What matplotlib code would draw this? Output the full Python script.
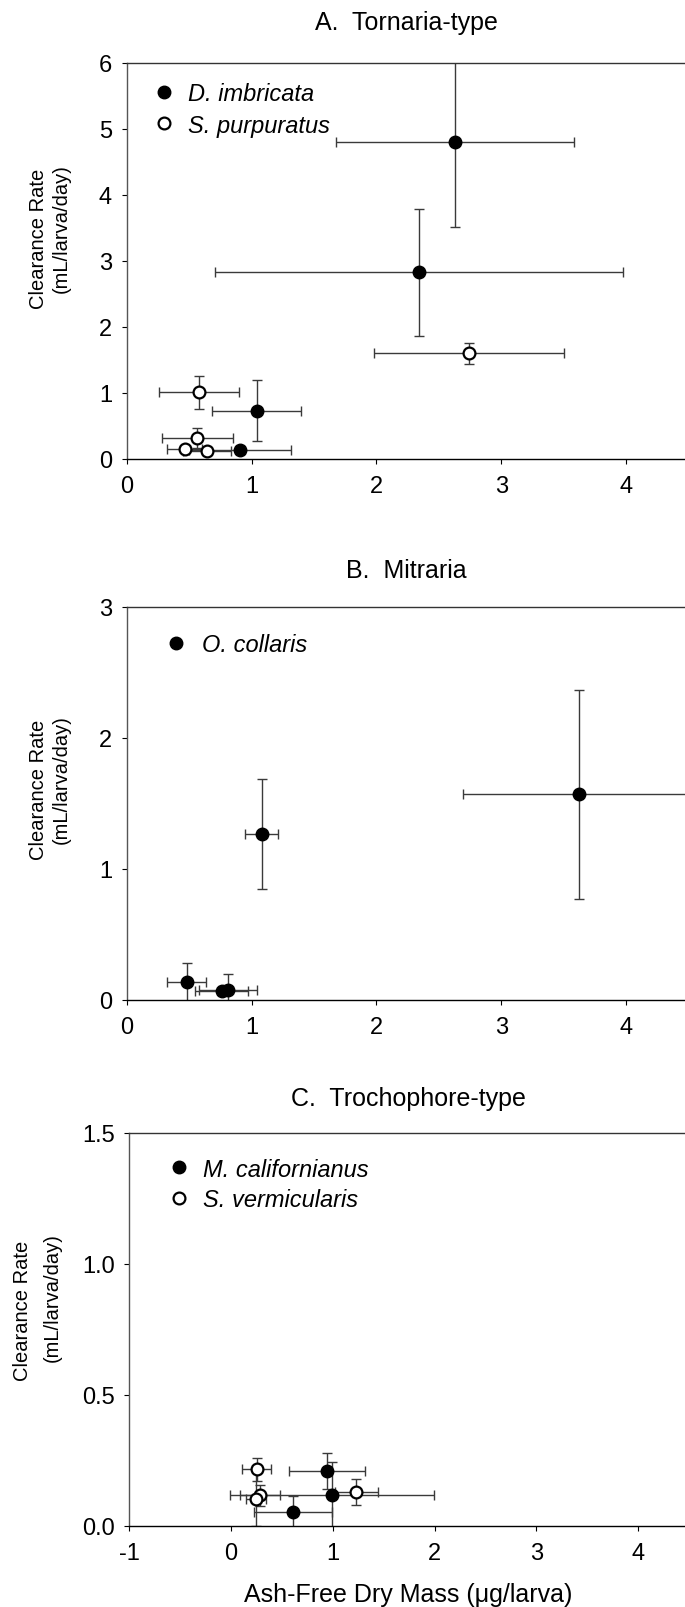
import matplotlib
matplotlib.use('Agg')
import matplotlib.pyplot as plt
from matplotlib.lines import Line2D
from matplotlib.ticker import FormatStrFormatter

plt.rcParams['font.family'] = ['Liberation Sans', 'DejaVu Sans']
plt.rcParams['axes.unicode_minus'] = False

# A. Tornaria-type
a_dimb_x = [2.63, 2.34, 1.04, 0.91]
a_dimb_xerr = [0.95, 1.63, 0.36, 0.41]
a_dimb_y = [4.80, 2.83, 0.73, 0.14]
a_dimb_yerr = [1.28, 0.96, 0.46, 0.06]

a_spur_x = [2.74, 0.58, 0.565, 0.465, 0.645]
a_spur_xerr = [0.76, 0.32, 0.285, 0.14, 0.19]
a_spur_y = [1.60, 1.01, 0.32, 0.15, 0.125]
a_spur_yerr = [0.16, 0.25, 0.15, 0.04, 0.06]

# B. Mitraria
b_ocol_x = [3.62, 1.08, 0.48, 0.76, 0.81]
b_ocol_xerr = [0.925, 0.13, 0.155, 0.215, 0.23]
b_ocol_y = [1.57, 1.27, 0.14, 0.065, 0.08]
b_ocol_yerr = [0.80, 0.42, 0.145, 0.03, 0.115]

# C. Trochophore-type
c_mcal_x = [0.94, 0.99, 0.61]
c_mcal_xerr = [0.375, 1.0, 0.38]
c_mcal_y = [0.21, 0.12, 0.053]
c_mcal_yerr = [0.07, 0.125, 0.062]

c_sver_x = [0.252, 1.23, 0.285, 0.245]
c_sver_xerr = [0.14, 0.21, 0.2, 0.1]
c_sver_y = [0.216, 0.13, 0.117, 0.104]
c_sver_yerr = [0.045, 0.05, 0.04, 0.105]

W, H = 685, 1608
fig = plt.figure(figsize=(W / 100, H / 100), dpi=100)

ERRC = '#3a3a3a'
TICKFS = 17
LEGFS = 17
YLFS = 14.5


def px_axes(left, top, bottom):
    return fig.add_axes([left / W, 1 - bottom / H, 1 - left / W, (bottom - top) / H])


def style(ax):
    ax.spines['right'].set_visible(False)
    for s in ('left', 'top', 'bottom'):
        ax.spines[s].set_linewidth(1.0)
    ax.spines['left'].set_color('#555555')
    ax.spines['top'].set_color('#333333')
    ax.spines['bottom'].set_color('black')
    ax.tick_params(axis='x', direction='out', length=3.5, width=0.8, labelsize=TICKFS, pad=8)
    ax.tick_params(axis='y', direction='out', length=3.5, width=0.8, labelsize=TICKFS, pad=7)


def series(ax, x, y, xerr, yerr, filled):
    ax.errorbar(x, y, xerr=xerr, yerr=yerr, fmt='none', ecolor=ERRC,
                elinewidth=1.0, capsize=3.5, capthick=1.0, zorder=2)
    if filled:
        ax.plot(x, y, 'o', ms=9, mfc='black', mec='black', ls='none', zorder=3, clip_on=False)
    else:
        ax.plot(x, y, 'o', ms=8.5, mfc='white', mec='black', mew=1.6, ls='none', zorder=3, clip_on=False)


def legend(ax, labels, fills, left, top, gap, spacing):
    handles = []
    for f in fills:
        if f:
            handles.append(Line2D([], [], marker='o', ls='none', ms=9, mfc='black', mec='black'))
        else:
            handles.append(Line2D([], [], marker='o', ls='none', ms=8.5, mfc='white', mec='black', mew=1.6))
    ax.legend(handles, labels, loc='upper left', bbox_to_anchor=(left, top),
              frameon=False, borderpad=0, borderaxespad=0, handlelength=1.0,
              handletextpad=gap, labelspacing=spacing,
              prop={'style': 'italic', 'size': LEGFS})


def ylab(x1, y1, x2, y2):
    fig.text(x1 / W, 1 - y1 / H, 'Clearance Rate', rotation=90, ha='center', va='center', fontsize=YLFS)
    fig.text(x2 / W, 1 - y2 / H, '(mL/larva/day)', rotation=90, ha='center', va='center', fontsize=YLFS)


# Panel A
ax = px_axes(126.6, 64, 460)
series(ax, a_dimb_x, a_dimb_y, a_dimb_xerr, a_dimb_yerr, True)
series(ax, a_spur_x, a_spur_y, a_spur_xerr, a_spur_yerr, False)
ax.set_xlim(0, 4.47)
ax.set_ylim(0, 6)
ax.set_xticks([0, 1, 2, 3, 4])
ax.set_yticks([0, 1, 2, 3, 4, 5, 6])
style(ax)
legend(ax, ['D. imbricata', 'S. purpuratus'], [True, False], 0.046, 0.951, 0.52, 0.35)
fig.text(406 / W, 1 - 23 / H, 'A.  Tornaria-type', ha='center', va='center', fontsize=18)
ylab(38, 239, 61, 229)

# Panel B
ax = px_axes(126.6, 608, 1001)
series(ax, b_ocol_x, b_ocol_y, b_ocol_xerr, b_ocol_yerr, True)
ax.set_xlim(0, 4.47)
ax.set_ylim(0, 3)
ax.set_xticks([0, 1, 2, 3, 4])
ax.set_yticks([0, 1, 2, 3])
style(ax)
legend(ax, ['O. collaris'], [True], 0.067, 0.934, 0.6, 0.35)
fig.text(406 / W, 1 - 571 / H, 'B.  Mitraria', ha='center', va='center', fontsize=18)
ylab(38, 790, 61, 780)

# Panel C
ax = px_axes(129.3, 1134, 1527)
series(ax, c_mcal_x, c_mcal_y, c_mcal_xerr, c_mcal_yerr, True)
series(ax, c_sver_x, c_sver_y, c_sver_xerr, c_sver_yerr, False)
ax.set_xlim(-1, 4.46)
ax.set_ylim(0, 1.5)
ax.set_xticks([-1, 0, 1, 2, 3, 4])
ax.set_yticks([0, 0.5, 1.0, 1.5])
ax.yaxis.set_major_formatter(FormatStrFormatter('%.1f'))
style(ax)
legend(ax, ['M. californianus', 'S. vermicularis'], [True, False], 0.068, 0.937, 0.52, 0.3)
fig.text(408 / W, 1 - 1099 / H, 'C.  Trochophore-type', ha='center', va='center', fontsize=18)
ylab(23, 1311, 52, 1298)
fig.text(408 / W, 1 - 1595 / H, 'Ash-Free Dry Mass (\u03bcg/larva)', ha='center', va='center', fontsize=18)

fig.savefig('out.png', dpi=100)
